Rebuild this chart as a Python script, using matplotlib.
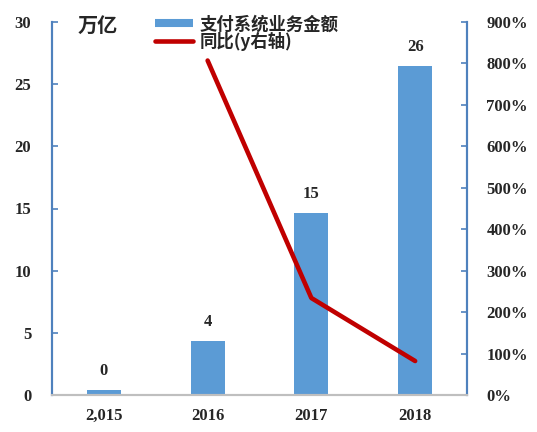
import matplotlib
matplotlib.use("Agg")
import matplotlib.pyplot as plt
from matplotlib.ticker import FuncFormatter
from matplotlib.lines import Line2D

plt.rcParams['font.family'] = ['Noto Sans CJK SC', 'DejaVu Sans']

years = ["2,015", "2016", "2017", "2018"]
amounts = [0.4, 4.34, 14.64, 26.47]
amount_labels = ["0", "4", "15", "26"]
yoy_years = ["2016", "2017", "2018"]
yoy = [8.07, 2.34, 0.82]

bar_color = "#5B9BD5"
line_color = "#C00000"
spine_color = "#4F81BD"
text_color = "#262626"
num_font = ['Liberation Serif', 'DejaVu Serif']

fig = plt.figure(figsize=(5.37, 4.32), dpi=100)
ax = fig.add_axes([52/537, 1 - 395/432, (467 - 52)/537, (395 - 22)/432])
ax2 = ax.twinx()

x = list(range(len(years)))
bars = ax.bar(x, amounts, width=0.33, color=bar_color, zorder=2)
for xi, v, lab in zip(x, amounts, amount_labels):
    ax.text(xi, v + 1.5, lab, ha='center', va='center', fontsize=12,
            fontweight='bold', color=text_color, family=num_font)

xl = [years.index(y) for y in yoy_years]
line, = ax2.plot(xl, yoy, color=line_color, linewidth=3.3, solid_capstyle='round', zorder=3)

ax.set_xlim(-0.5, 3.5)
ax.set_ylim(0, 30)
ax.set_yticks(range(0, 31, 5))
ax2.set_ylim(0, 9)
ax2.set_yticks([i for i in range(10)])
ax2.yaxis.set_major_formatter(FuncFormatter(lambda v, p: f"{int(round(v*100))}%"))
ax.set_xticks(x)
ax.set_xticklabels(years)

for a in (ax, ax2):
    a.spines['top'].set_visible(False)
    a.spines['left'].set_color(spine_color)
    a.spines['right'].set_color(spine_color)
    a.spines['bottom'].set_color("#BFBFBF")
    a.spines['left'].set_linewidth(1.5)
    a.spines['right'].set_linewidth(1.5)
    a.spines['bottom'].set_linewidth(1.5)

ax.tick_params(axis='y', direction='in', length=4, color=spine_color, width=1.2,
               labelsize=12, labelcolor=text_color, pad=15)
ax2.tick_params(axis='y', direction='in', length=4, color=spine_color, width=1.2,
                labelsize=12, labelcolor=text_color, pad=14)
ax.tick_params(axis='x', length=0, labelsize=12, labelcolor=text_color, pad=9)
for lab in ax.get_yticklabels() + ax2.get_yticklabels() + ax.get_xticklabels():
    lab.set_fontweight('bold')
    lab.set_family(num_font)

fig.text(78/537, 1 - 25/432, "万亿", fontsize=14.5, fontweight='bold',
         color=text_color, va='center', ha='left')

h_bar = Line2D([], [], color=bar_color, linewidth=5.8, solid_capstyle='butt')
h_line = Line2D([], [], color=line_color, linewidth=3.3, solid_capstyle='round')
leg = fig.legend([h_bar, h_line], ["支付系统业务金额", "同比(y右轴)"],
                 loc='upper left', bbox_to_anchor=(143/537, 1 - 3/432),
                 frameon=False, handlelength=2.2, handletextpad=0.35,
                 labelspacing=-0.05, borderpad=0.2,
                 prop={'weight': 'bold', 'size': 12.5})
for t in leg.get_texts():
    t.set_color(text_color)

fig.savefig("out.png", dpi=100)
